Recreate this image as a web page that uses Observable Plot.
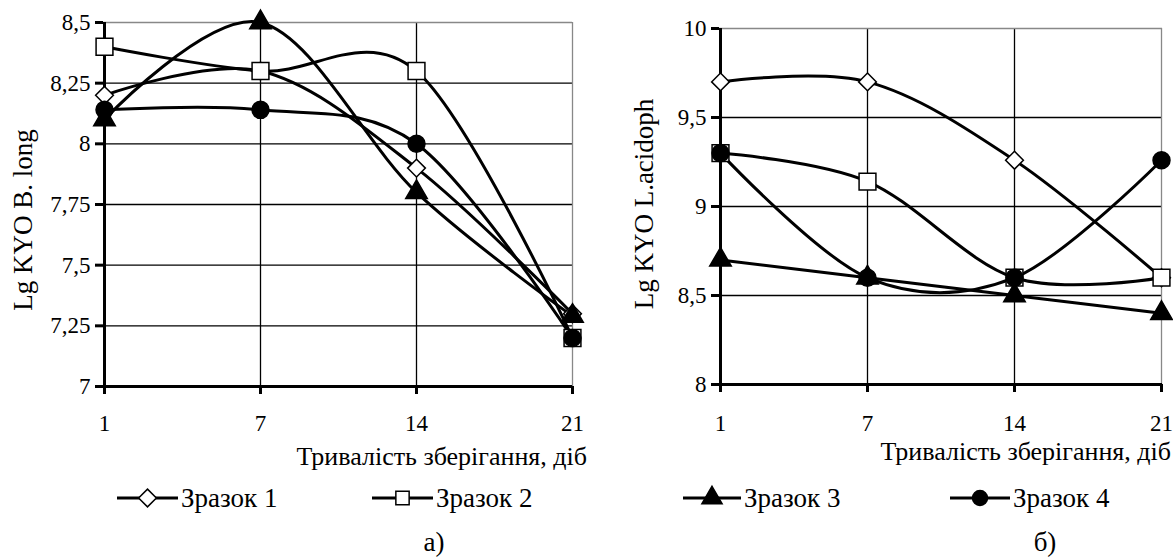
<!DOCTYPE html>
<html><head><meta charset="utf-8">
<script src="https://cdn.jsdelivr.net/npm/d3@7"></script>
<script src="https://cdn.jsdelivr.net/npm/@observablehq/plot@0.6"></script>
<style>
body{margin:0;background:#fff;font-family:"Liberation Serif","Times New Roman",serif;}
#wrap{position:relative;width:1173px;height:558px;overflow:hidden;background:#fff;}
.abs{position:absolute;white-space:nowrap;color:#000;line-height:1;font-family:"Liberation Serif","Times New Roman",serif;}
.pl{position:absolute;}
.pl svg{overflow:visible;max-width:none;}
</style></head><body><div id="wrap"></div>
<script>
// ---- data ----
const days = ["1", "7", "14", "21"];
const samples = ["Зразок 1", "Зразок 2", "Зразок 3", "Зразок 4"];
const bLong1 = [8.2, 8.3, 7.9, 7.3];
const bLong2 = [8.4, 8.3, 8.3, 7.2];
const bLong3 = [8.1, 8.5, 7.8, 7.29];
const bLong4 = [8.14, 8.14, 8.0, 7.2];
const lAcid1 = [9.7, 9.7, 9.26, 8.6];
const lAcid2 = [9.3, 9.14, 8.6, 8.6];
const lAcid3 = [8.7, 8.6, 8.5, 8.4];
const lAcid4 = [9.3, 8.6, 8.6, 9.26];
const bLongTicks = [7, 7.25, 7.5, 7.75, 8, 8.25, 8.5];
const lAcidTicks = [8, 8.5, 9, 9.5, 10];
const xTitle = "Тривалість зберігання, діб";
const yTitleA = "Lg KYO B. long";
const yTitleB = "Lg KYO L.acidoph";
const captions = ["а)", "б)"];

// ---- styles ----
const symStyles = [
  {symbol: "diamond2", fill: "white", r: 8},
  {symbol: "square", fill: "white", r: 9.5},
  {symbol: "triangle", fill: "black", r: 8},
  {symbol: "circle", fill: "black", r: 8.5}
];
const legendR = [8, 7.5, 7.5, 7.5];
const d3Sym = {diamond2: d3.symbolDiamond2, square: d3.symbolSquare, triangle: d3.symbolTriangle, circle: d3.symbolCircle};
const FONT = '"Liberation Serif","Times New Roman",serif';
const TICKFS = 23;
const wrap = document.getElementById("wrap");
const fmt = d => String(d).replace(".", ",");

function panel({series, ticks, width, height, ml, mr, mt, mb, xpad}) {
  const rows = [];
  series.forEach((vals, i) => vals.forEach((v, j) => rows.push({s: i, day: days[j], value: v})));
  const marks = [
    Plot.ruleY(ticks.slice(1, -1), {stroke: "#000", strokeWidth: 1.3}),
    Plot.ruleX(days.slice(1, -1), {stroke: "#000", strokeWidth: 1.3}),
    Plot.ruleX([days[days.length - 1]], {stroke: "#888", strokeWidth: 1.3}),
    Plot.ruleY([ticks[ticks.length - 1]], {stroke: "#888", strokeWidth: 1.3}),
    Plot.axisY({ticks, tickFormat: fmt, tickSize: 8, tickPadding: 5, strokeWidth: 3, label: null, fontFamily: FONT, fontSize: TICKFS}),
    Plot.axisX({tickSize: 8, tickPadding: xpad, strokeWidth: 3, label: null, fontFamily: FONT, fontSize: TICKFS}),
    Plot.ruleX([days[0]], {stroke: "#000", strokeWidth: 3}),
    Plot.ruleY([ticks[0]], {stroke: "#000", strokeWidth: 3})
  ];
  series.forEach((vals, i) => {
    marks.push(Plot.line(rows.filter(r => r.s === i), {x: "day", y: "value", curve: "cardinal", stroke: "#000", strokeWidth: 3}));
  });
  series.forEach((vals, i) => {
    const st = symStyles[i];
    marks.push(Plot.dot(rows.filter(r => r.s === i), {x: "day", y: "value", symbol: st.symbol, r: st.r, fill: st.fill, stroke: "#000", strokeWidth: 1.5}));
  });
  return Plot.plot({
    width, height, marginLeft: ml, marginRight: mr, marginTop: mt, marginBottom: mb,
    x: {type: "point", domain: days, padding: 0},
    y: {domain: [ticks[0], ticks[ticks.length - 1]]},
    style: {fontFamily: FONT, fontSize: TICKFS + "px", color: "#000", background: "transparent", overflow: "visible"},
    marks
  });
}

function place(el, left, top) {
  const d = document.createElement("div");
  d.className = "pl"; d.style.left = left + "px"; d.style.top = top + "px";
  d.appendChild(el); wrap.appendChild(d);
}
function text(str, x, y, anchor, size, rotate) {
  const d = document.createElement("div");
  d.className = "abs"; d.textContent = str;
  d.style.fontSize = size + "px";
  d.style.left = x + "px"; d.style.top = y + "px";
  const tx = anchor === "end" ? "-100%" : anchor === "middle" ? "-50%" : "0";
  d.style.transform = rotate ? "translate(-50%,-50%) rotate(-90deg)" : `translate(${tx},-50%)`;
  wrap.appendChild(d);
}
function legendItem(i, x0, x1, y) {
  const st = symStyles[i];
  const ns = "http://www.w3.org/2000/svg";
  const svg = document.createElementNS(ns, "svg");
  const w = x1 - x0;
  svg.setAttribute("width", w); svg.setAttribute("height", 24);
  svg.style.position = "absolute"; svg.style.left = x0 + "px"; svg.style.top = (y - 12) + "px"; svg.style.overflow = "visible";
  const ln = document.createElementNS(ns, "line");
  ln.setAttribute("x1", 0); ln.setAttribute("x2", w); ln.setAttribute("y1", 12); ln.setAttribute("y2", 12);
  ln.setAttribute("stroke", "#000"); ln.setAttribute("stroke-width", 3);
  svg.appendChild(ln);
  const p = document.createElementNS(ns, "path");
  p.setAttribute("d", d3.symbol(d3Sym[st.symbol], Math.PI * legendR[i] * legendR[i])());
  p.setAttribute("transform", `translate(${w / 2},12)`);
  p.setAttribute("fill", st.fill); p.setAttribute("stroke", "#000"); p.setAttribute("stroke-width", 1.5);
  svg.appendChild(p);
  wrap.appendChild(svg);
  text(samples[i], x1 + 3, y, "start", 27);
}

place(panel({series: [bLong1, bLong2, bLong3, bLong4], ticks: bLongTicks, width: 590, height: 440, ml: 103, mr: 18, mt: 22, mb: 54, xpad: 20}), 0, 0);
place(panel({series: [lAcid1, lAcid2, lAcid3, lAcid4], ticks: lAcidTicks, width: 583, height: 440, ml: 129, mr: 11, mt: 28, mb: 56, xpad: 22}), 590, 0);

text(xTitle, 587, 457, "end", 26);
text(xTitle, 1171, 452, "end", 26);
text(yTitleA, 23, 220, "middle", 27, true);
text(yTitleB, 644, 204, "middle", 27, true);
legendItem(0, 117, 178, 498);
legendItem(1, 372, 433, 498);
legendItem(2, 683, 741, 498);
legendItem(3, 950, 1010, 498);
text(captions[0], 434, 542, "middle", 27);
text(captions[1], 1045, 542, "middle", 27);
</script>
</body></html>
